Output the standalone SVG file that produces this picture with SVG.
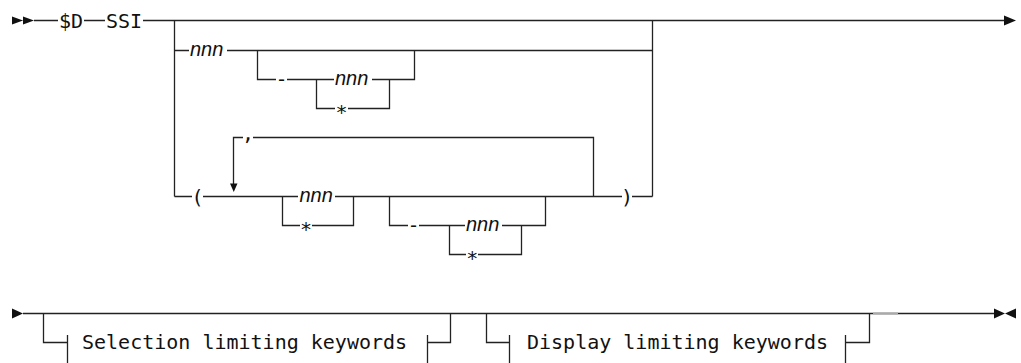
<svg xmlns="http://www.w3.org/2000/svg" width="1021" height="363" viewBox="0 0 1021 363">
<style>
.ln{stroke:#222;stroke-width:1.3;fill:none}
.gr{stroke:#aaa;stroke-width:2;fill:none}
.ah{fill:#111;stroke:none}
.mono{font-family:"DejaVu Sans Mono","Liberation Mono",monospace;font-size:20px;fill:#111}
.ital{font-family:"Liberation Sans",Arial,sans-serif;font-style:italic;font-size:20px;fill:#111}
.mid{text-anchor:middle}
</style>
<rect width="1021" height="363" fill="#fff"/>
<g id="connectors">
<path class="ln" d="M34 20.5H58 M84 20.5H105 M143 20.5H1005"/>
<path class="ln" d="M174.5 20.5V196.5 M652.5 20.5V196.5"/>
<path class="ln" d="M174.5 50.5H189 M227 50.5H652.5"/>
<path class="ln" d="M257.5 50.5V79.5H276 M287 79.5H334 M372 79.5H414.5V50.5"/>
<path class="ln" d="M316.5 79.5V108.5H335 M348 108.5H389.5V79.5"/>
<path class="ln" d="M233.5 184V137.5H243 M253 137.5H593.5V196.5"/>
<path class="ln" d="M174.5 196.5H192 M203 196.5H298 M335 196.5H622 M632 196.5H652.5"/>
<path class="ln" d="M282.5 196.5V225.5H300 M312 225.5H353.5V196.5"/>
<path class="ln" d="M389.5 196.5V225.5H408 M419 225.5H465 M502 225.5H545.5V196.5"/>
<path class="ln" d="M449.5 225.5V254.5H466 M478 254.5H521.5V225.5"/>
<path class="ln" d="M23 313.5H994"/>
<path class="gr" d="M873 313.5H898"/>
<path class="ln" d="M43.5 313.5V342.5H67.5 M67.5 335V363"/>
<path class="ln" d="M427.5 335V363 M427.5 342.5H450.5V313.5"/>
<path class="ln" d="M486.5 313.5V342.5H509.5 M509.5 335V363"/>
<path class="ln" d="M845.5 335V363 M845.5 342.5H869.5V313.5"/>
<path class="ah" d="M12 16.5L23 20.5L12 24.5Z M23 16.5L34 20.5L23 24.5Z"/>
<path class="ah" d="M1004 15.5L1016 20.5L1004 25.5Z"/>
<path class="ah" d="M230 183.5L237.5 183.5L233.75 192Z"/>
<path class="ah" d="M12 308.5L23 313.5L12 318.5Z"/>
<path class="ah" d="M994 308.5L1005 313.5L994 318.5Z M1016 308.5L1005 313.5L1016 318.5Z"/>
</g>
<g id="node-D"><text class="mono" x="59" y="28">$D</text></g>
<g id="node-SSI"><text class="mono" x="106" y="28">SSI</text></g>
<g id="node-nnn1"><text class="ital" x="190" y="55.5">nnn</text></g>
<g id="node-dash1"><text class="mono mid" x="281.5" y="85.5">-</text></g>
<g id="node-nnn2"><text class="ital" x="335" y="84.5">nnn</text></g>
<g id="node-star1"><text class="mono mid" x="341.5" y="119">*</text></g>
<g id="node-comma"><text class="mono mid" x="248" y="140">,</text></g>
<g id="node-lparen"><text class="mono mid" x="197.5" y="203.5">(</text></g>
<g id="node-nnn3"><text class="ital" x="299.5" y="201.5">nnn</text></g>
<g id="node-star2"><text class="mono mid" x="306" y="236">*</text></g>
<g id="node-dash2"><text class="mono mid" x="413.5" y="231.5">-</text></g>
<g id="node-nnn4"><text class="ital" x="466" y="230.5">nnn</text></g>
<g id="node-star3"><text class="mono mid" x="472.3" y="265">*</text></g>
<g id="node-rparen"><text class="mono mid" x="627" y="203.5">)</text></g>
<g id="node-selection"><text class="mono" x="82" y="348.5">Selection limiting keywords</text></g>
<g id="node-display"><text class="mono" x="527" y="348.5">Display limiting keywords</text></g>
</svg>
